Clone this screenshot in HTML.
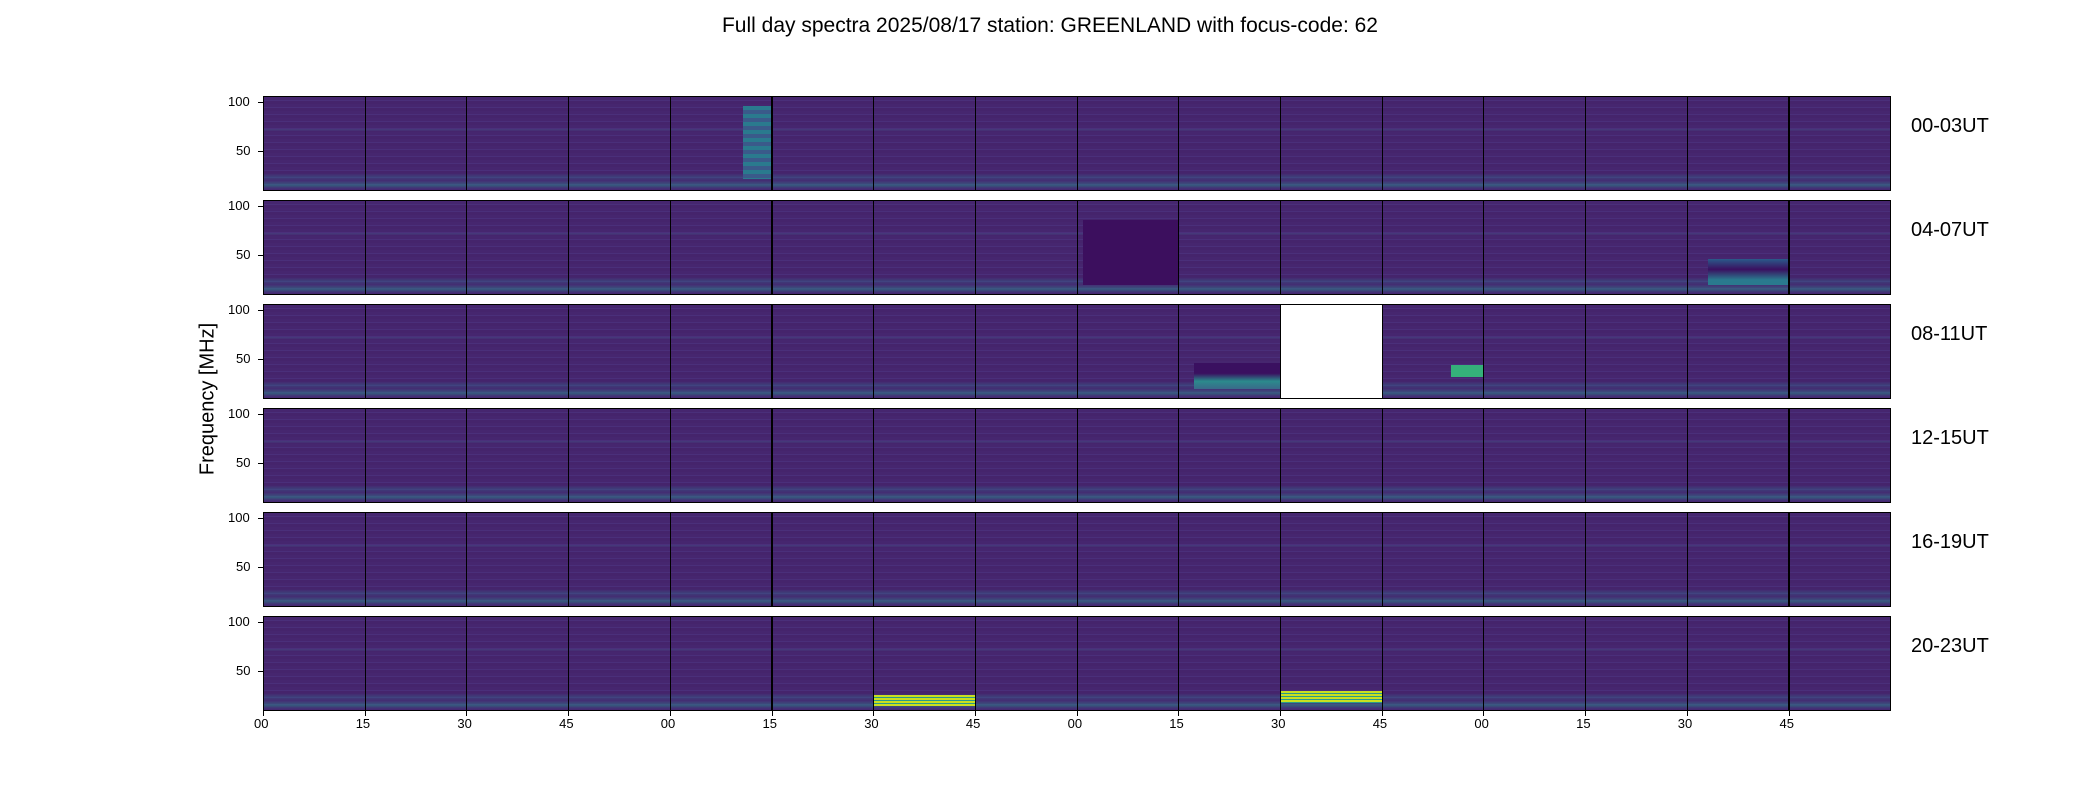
<!DOCTYPE html>
<html><head><meta charset="utf-8"><style>
body{margin:0;width:2100px;height:800px;background:#fff;position:relative;overflow:hidden;font-family:"Liberation Sans","DejaVu Sans",sans-serif;}
.p{position:absolute;height:95px;box-sizing:border-box;border:1px solid #000;
background:
linear-gradient(to bottom,transparent 0 34%,rgba(70,100,150,.4) 35%,transparent 37%),
linear-gradient(to bottom,transparent 0 82%,rgba(45,110,142,.35) 86%,rgba(60,80,140,.2) 90%,rgba(40,140,140,.5) 95%,rgba(60,80,140,.3) 98%,transparent 100%),
repeating-linear-gradient(to bottom,#46266f 0 3px,#4a2f7a 3px 4px,#45246c 4px 7px);}
.t{position:absolute;font-size:13px;color:#000;}
.tk{position:absolute;height:1px;width:5px;background:#000;}
.xk{position:absolute;width:1px;height:5px;background:#000;}
.r{position:absolute;font-size:20px;}
</style></head><body>
<div style="position:absolute;top:14px;left:0;width:2100px;text-align:center;font-size:21px;">Full day spectra 2025/08/17 station: GREENLAND with focus-code: 62</div>
<div style="position:absolute;left:208px;top:399px;transform:translate(-50%,-50%) rotate(-90deg);font-size:20px;white-space:nowrap;">Frequency [MHz]</div>
<div id="c"></div>
<script>
(function(){
var h='';var L=263,W=101.7;
var labs=['00-03UT','04-07UT','08-11UT','12-15UT','16-19UT','20-23UT'];
for(var r=0;r<6;r++){var ty=96+r*104;
for(var i=0;i<16;i++){var x=L+i*W;var st='left:'+x.toFixed(1)+'px;top:'+ty+'px;width:'+(W+1).toFixed(1)+'px;';
if(r==2&&i==10)st+='background:#fff;';
h+='<div class="p" style="'+st+'">';
if(r==5&&i==6)h+='<div style="position:absolute;left:0;right:0;top:84%;height:12%;background:repeating-linear-gradient(to bottom,#c8e020 0 2px,#2a9a88 2px 3px)"></div>';
if(r==5&&i==10)h+='<div style="position:absolute;left:0;right:0;top:80%;height:12%;background:repeating-linear-gradient(to bottom,#c8e020 0 2px,#2a9a88 2px 3px)"></div>';
if(r==0&&i==4)h+='<div style="position:absolute;left:72%;right:0;top:10%;height:78%;background:repeating-linear-gradient(to bottom,#2a7a8e 0 4px,#3a5a8a 4px 8px)"></div>';
if(r==2&&i==9)h+='<div style="position:absolute;left:15%;right:0;top:62%;height:28%;background:linear-gradient(#3a1060,#3a1060 40%,#2b8a8c 70%,#3a6a8a)"></div>';
if(r==2&&i==11)h+='<div style="position:absolute;left:68%;right:0;top:65%;height:12%;background:#35b07a"></div>';
if(r==1&&i==14)h+='<div style="position:absolute;left:20%;right:0;top:62%;height:28%;background:linear-gradient(#2a5a8a,#3a1060 40%,#2a7a8e 80%)"></div>';
if(r==1&&i==8)h+='<div style="position:absolute;left:5%;right:0;top:20%;height:70%;background:#3c0f5e"></div>';
h+='</div>';
if(r==5){h+='<div class="xk" style="left:'+x.toFixed(1)+'px;top:711px"></div>';
h+='<div class="t" style="left:'+(x-9).toFixed(1)+'px;top:716px">'+['00','15','30','45'][i%4]+'</div>';}
}
h+='<div class="tk" style="left:258px;top:'+(ty+6)+'px"></div><div class="t" style="left:228px;top:'+(ty-2)+'px">100</div>';
h+='<div class="tk" style="left:258px;top:'+(ty+55)+'px"></div><div class="t" style="left:236px;top:'+(ty+47)+'px">50</div>';
h+='<div class="r" style="left:1911px;top:'+(ty+19)+'px">'+labs[r]+'</div>';
}
document.getElementById('c').innerHTML=h;
})();
</script>
</body></html>
